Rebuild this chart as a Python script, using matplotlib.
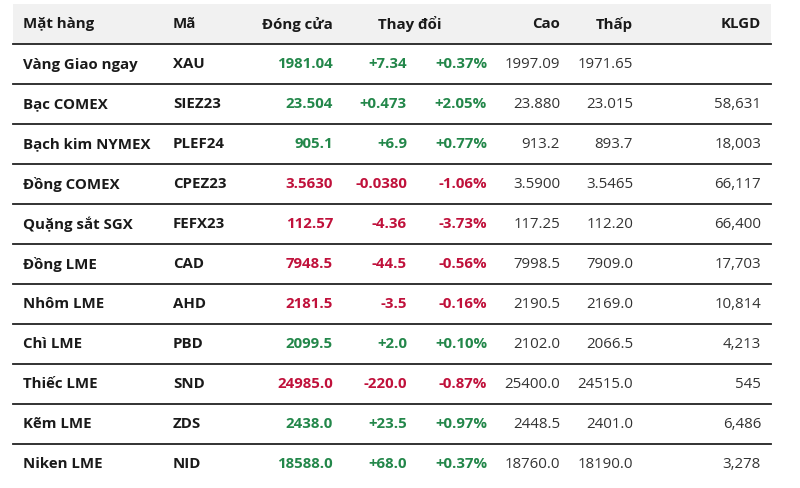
import matplotlib
matplotlib.use("Agg")
import matplotlib.pyplot as plt
from matplotlib.patches import Rectangle

headers = ["Mặt hàng", "Mã", "Đóng cửa", "Thay đổi", "Cao", "Thấp", "KLGD"]
names = ["Vàng Giao ngay", "Bạc COMEX", "Bạch kim NYMEX", "Đồng COMEX", "Quặng sắt SGX",
         "Đồng LME", "Nhôm LME", "Chì LME", "Thiếc LME", "Kẽm LME", "Niken LME"]
codes = ["XAU", "SIEZ23", "PLEF24", "CPEZ23", "FEFX23", "CAD", "AHD", "PBD", "SND", "ZDS", "NID"]
close = ["1981.04", "23.504", "905.1", "3.5630", "112.57", "7948.5", "2181.5", "2099.5",
         "24985.0", "2438.0", "18588.0"]
change = ["+7.34", "+0.473", "+6.9", "-0.0380", "-4.36", "-44.5", "-3.5", "+2.0",
          "-220.0", "+23.5", "+68.0"]
pct = ["+0.37%", "+2.05%", "+0.77%", "-1.06%", "-3.73%", "-0.56%", "-0.16%", "+0.10%",
       "-0.87%", "+0.97%", "+0.37%"]
high = ["1997.09", "23.880", "913.2", "3.5900", "117.25", "7998.5", "2190.5", "2102.0",
        "25400.0", "2448.5", "18760.0"]
low = ["1971.65", "23.015", "893.7", "3.5465", "112.20", "7909.0", "2169.0", "2066.5",
       "24515.0", "2401.0", "18190.0"]
volume = ["", "58,631", "18,003", "66,117", "66,400", "17,703", "10,814", "4,213",
          "545", "6,486", "3,278"]

GREEN = "#23874a"
RED = "#c0113b"
TXT = "#1a1a1a"
FONT = "Open Sans"
FS = 10.8

fig = plt.figure(figsize=(8.0, 4.88), dpi=100)
ax = fig.add_axes([0, 0, 1, 1])
ax.set_xlim(0, 800)
ax.set_ylim(488, 0)
ax.axis("off")

left, right = 13, 771
ax.add_patch(Rectangle((left, 4), right - left, 40, color="#f1f1f1", lw=0))
ax.plot([left, right], [44, 44], color="#222222", lw=1.3)

hy = 24
ax.text(23, hy, headers[0], ha="left", va="center", fontsize=FS, fontweight="bold", family=FONT, color=TXT)
ax.text(173, hy, headers[1], ha="left", va="center", fontsize=FS, fontweight="bold", family=FONT, color=TXT)
ax.text(333, hy, headers[2], ha="right", va="center", fontsize=FS, fontweight="bold", family=FONT, color=TXT)
ax.text(410, hy, headers[3], ha="center", va="center", fontsize=FS, fontweight="bold", family=FONT, color=TXT)
ax.text(560, hy, headers[4], ha="right", va="center", fontsize=FS, fontweight="bold", family=FONT, color=TXT)
ax.text(633, hy, headers[5], ha="right", va="center", fontsize=FS, fontweight="bold", family=FONT, color=TXT)
ax.text(761, hy, headers[6], ha="right", va="center", fontsize=FS, fontweight="bold", family=FONT, color=TXT)

row_h = 40
for i in range(len(names)):
    y = 64.5 + i * row_h
    col = GREEN if change[i].startswith("+") else RED
    ax.text(23, y, names[i], ha="left", va="center", fontsize=FS, fontweight="bold", family=FONT, color=TXT)
    ax.text(173, y, codes[i], ha="left", va="center", fontsize=FS, fontweight="bold", family=FONT, color=TXT)
    ax.text(333, y, close[i], ha="right", va="center", fontsize=FS, fontweight="bold", family=FONT, color=col)
    ax.text(407, y, change[i], ha="right", va="center", fontsize=FS, fontweight="bold", family=FONT, color=col)
    ax.text(487, y, pct[i], ha="right", va="center", fontsize=FS, fontweight="bold", family=FONT, color=col)
    ax.text(560, y, high[i], ha="right", va="center", fontsize=FS, family=FONT, color="#333333")
    ax.text(633, y, low[i], ha="right", va="center", fontsize=FS, family=FONT, color="#333333")
    ax.text(761, y, volume[i], ha="right", va="center", fontsize=FS, family=FONT, color="#333333")
    if i < len(names) - 1:
        ly = 84 + i * row_h
        ax.plot([left, right], [ly, ly], color="#222222", lw=1.3)

fig.savefig("out.png", dpi=100)
